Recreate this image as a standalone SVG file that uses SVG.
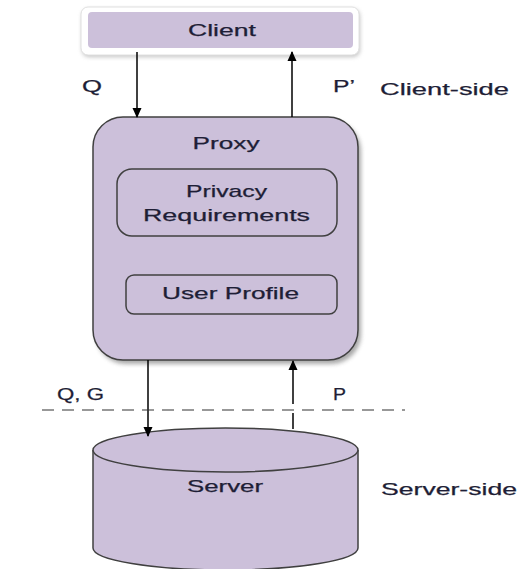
<svg xmlns="http://www.w3.org/2000/svg" width="519" height="569" viewBox="0 0 519 569">
<defs>
<marker id="ah" markerWidth="10" markerHeight="10" refX="9" refY="5" orient="auto" markerUnits="userSpaceOnUse">
<path d="M0,0.5 L10,5 L0,9.5 Z" fill="#000"/>
</marker>
<filter id="sh" x="-10%" y="-10%" width="130%" height="130%">
<feGaussianBlur stdDeviation="2"/>
</filter>
</defs>
<style>
.t{font-family:"Liberation Sans",Arial,sans-serif;font-size:17px;fill:#1e1e36;stroke:#1e1e36;stroke-width:0.25;}
.box{fill:#CCC0DA;stroke:#404040;stroke-width:1.5;}
.con{stroke:#000;stroke-width:1.5;fill:none;}
</style>
<rect width="519" height="569" fill="#fff"/>
<g id="client">
<rect x="82" y="9" width="278" height="48" rx="7" fill="#8a8a8a" opacity="0.5" filter="url(#sh)"/>
<rect x="81" y="7" width="278" height="48" rx="7" fill="#fff" stroke="#e0e0e0" stroke-width="1"/>
<rect x="88" y="12" width="265" height="36" rx="4" fill="#CCC0DA"/>
<text class="t" x="222" y="36" text-anchor="middle" textLength="68" lengthAdjust="spacingAndGlyphs">Client</text>
</g>
<g id="proxy">
<rect x="96" y="121" width="265" height="243" rx="30" fill="#707070" opacity="0.6" filter="url(#sh)"/>
<rect class="box" x="93" y="117" width="265" height="243" rx="30"/>
<text class="t" x="226" y="149" text-anchor="middle" textLength="67" lengthAdjust="spacingAndGlyphs">Proxy</text>
</g>
<g id="privacy">
<rect class="box" x="117" y="169" width="220" height="67" rx="15"/>
<text class="t" x="226.5" y="197" text-anchor="middle" textLength="81" lengthAdjust="spacingAndGlyphs">Privacy</text>
<text class="t" x="226.5" y="221" text-anchor="middle" textLength="167" lengthAdjust="spacingAndGlyphs">Requirements</text>
</g>
<g id="profile">
<rect class="box" x="126" y="275" width="211" height="39" rx="8"/>
<text class="t" x="230.5" y="299" text-anchor="middle" textLength="137" lengthAdjust="spacingAndGlyphs">User Profile</text>
</g>
<g id="server">
<path class="box" d="M93,450 L93,548 A132.5,22 0 0 0 358,548 L358,450"/>
<ellipse class="box" cx="225.5" cy="450" rx="132.5" ry="22"/>
<text class="t" x="225" y="492" text-anchor="middle" textLength="76" lengthAdjust="spacingAndGlyphs">Server</text>
</g>
<g id="connectors">
<line class="con" x1="137" y1="52" x2="137" y2="117" marker-end="url(#ah)"/>
<line class="con" x1="292" y1="117" x2="292" y2="52" marker-end="url(#ah)"/>
<line class="con" x1="148" y1="360" x2="148" y2="436" marker-end="url(#ah)"/>
<line class="con" x1="293" y1="404" x2="293" y2="361" marker-end="url(#ah)"/>
<line class="con" x1="293" y1="413" x2="293" y2="429"/>
<line x1="42" y1="410" x2="405" y2="410" stroke="#333" stroke-width="1.2" stroke-dasharray="12,8"/>
</g>
<g id="labels">
<text class="t" x="82" y="92" textLength="20" lengthAdjust="spacingAndGlyphs">Q</text>
<text class="t" x="333" y="92" textLength="22" lengthAdjust="spacingAndGlyphs">P’</text>
<text class="t" x="380" y="95" textLength="129" lengthAdjust="spacingAndGlyphs">Client-side</text>
<text class="t" x="57" y="400" textLength="47" lengthAdjust="spacingAndGlyphs">Q, G</text>
<text class="t" x="333" y="400" textLength="13" lengthAdjust="spacingAndGlyphs">P</text>
<text class="t" x="381" y="495" textLength="136" lengthAdjust="spacingAndGlyphs">Server-side</text>
</g>
</svg>
